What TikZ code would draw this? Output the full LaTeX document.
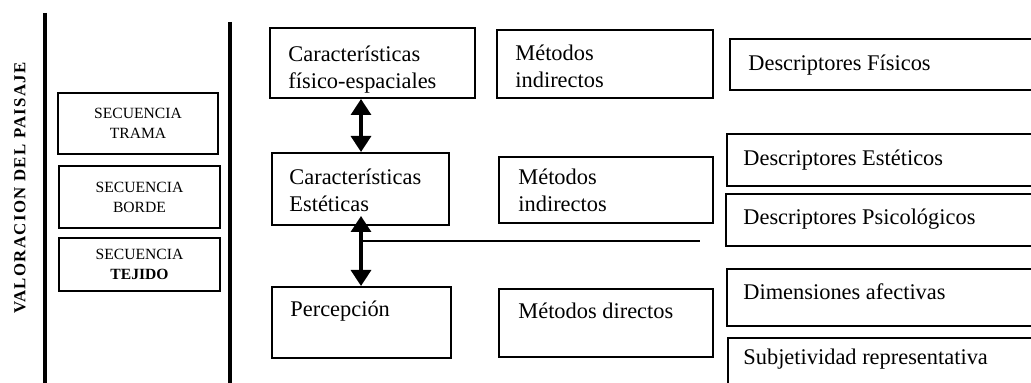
\documentclass[tikz,border=0pt]{standalone}
\usepackage{fontspec}
\setmainfont{Liberation Serif}
\newfontfamily\spacedbold[LetterSpace=8]{Liberation Serif}
\usetikzlibrary{arrows.meta}
\begin{document}
\begin{tikzpicture}[x=0.5pt,y=-0.5pt,
  box/.style={draw,line width=1pt,inner sep=0pt},
  seqbox/.style={box,align=center,font=\fontsize{7.8}{10}\selectfont},
  txt/.style={anchor=base west,inner sep=0pt,align=left,font=\fontsize{11.2}{13.5}\selectfont},
  bar/.style={line width=2pt},
  dbl/.style={line width=1.6pt,{Triangle[width=10pt,length=8pt]}-{Triangle[width=10pt,length=8pt]}},
  rule/.style={line width=1pt}]
\useasboundingbox (0,0) rectangle (1031,383);
\clip (0,0) rectangle (1031,383);
% vertical bars
\coordinate (b1t) at (45,13);
\coordinate (b1b) at (45,383);
\coordinate (b2t) at (230,22);
\coordinate (b2b) at (230,383);
\draw[bar] (b1t) -- (b1b);
\draw[bar] (b2t) -- (b2b);
\node[rotate=90,inner sep=0pt,font=\spacedbold\bfseries\fontsize{8.4}{10}\selectfont] (title) at (20,188) {VALORACION DEL PAISAJE};
% sequence boxes
\node[seqbox,minimum width=80pt,minimum height=30.5pt] (s1) at (138,123.5) {SECUENCIA\\TRAMA};
\node[seqbox,minimum width=80.5pt,minimum height=31pt] (s2) at (139.5,197) {SECUENCIA\\BORDE};
\node[seqbox,minimum width=80.5pt,minimum height=26.5pt] (s3) at (139.5,264.5) {SECUENCIA\\\textbf{TEJIDO}};
% main boxes
\node[box,minimum width=102.5pt,minimum height=35pt] (c1) at (372.5,63) {};
\node[box,minimum width=108pt,minimum height=34pt] (m1) at (605,64) {};
\node[box,minimum width=88.5pt,minimum height=36pt] (c2) at (360.5,189) {};
\node[box,minimum width=107pt,minimum height=33pt] (m2) at (606,190) {};
\node[box,minimum width=89.5pt,minimum height=35.5pt] (c3) at (361.5,322.5) {};
\node[box,minimum width=107pt,minimum height=34pt] (m3) at (606,323) {};
% right boxes (extend past the edge)
\node[box,minimum width=160pt,minimum height=25.5pt,anchor=north west] (d1) at (729,38) {};
\node[box,minimum width=160pt,minimum height=26pt,anchor=north west] (d2) at (726,133) {};
\node[box,minimum width=160pt,minimum height=26pt,anchor=north west] (d3) at (725,193) {};
\node[box,minimum width=160pt,minimum height=28.5pt,anchor=north west] (d4) at (726,268) {};
\node[box,minimum width=160pt,minimum height=40pt,anchor=north west] (d5) at (727,337) {};
% texts (base = baseline of the last line)
\node[txt] (tc1) at (288,89) {Características\\físico-espaciales};
\node[txt] (tm1) at (515,88) {Métodos\\indirectos};
\node[txt] (tc2) at (289,212) {Características\\Estéticas};
\node[txt] (tm2) at (518,212) {Métodos\\indirectos};
\node[txt] (tc3) at (290,317) {Percepción};
\node[txt] (tm3) at (518,319) {Métodos directos};
\node[txt] (td1) at (748,71) {Descriptores Físicos};
\node[txt] (td2) at (743,166) {Descriptores Estéticos};
\node[txt] (td3) at (743,225) {Descriptores Psicológicos};
\node[txt] (td4) at (743,300) {Dimensiones afectivas};
\node[txt] (td5) at (743,365) {Subjetividad representativa};
% arrows
\draw[dbl] ([xshift=46pt]c1.south west) -- ([xshift=46pt]c1.south west |- c2.north);
\coordinate (a2t) at ([xshift=45pt,yshift=5pt]c2.south west);
\coordinate (hl) at (700,241);
\draw[dbl] (a2t) -- (a2t |- c3.north);
\draw[rule] (a2t |- hl) -- (hl);
\end{tikzpicture}
\end{document}
